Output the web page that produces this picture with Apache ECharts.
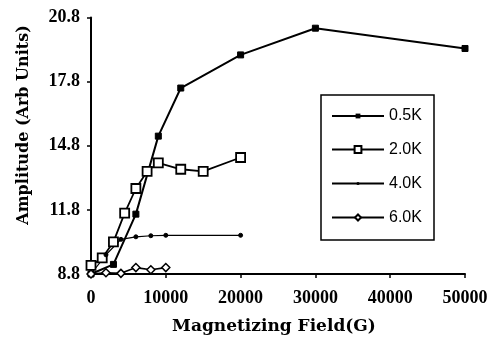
<!DOCTYPE html>
<html><head><meta charset="utf-8">
<script src="https://cdn.jsdelivr.net/npm/echarts@6/dist/echarts.min.js"></script>
<style>html,body{margin:0;padding:0;background:#fff}#c{width:502px;height:342px}</style>
</head><body><div id="c"></div>
<script>
const seriesNames = ['0.5K', '2.0K', '4.0K', '6.0K'];
const field05 = [0, 3000, 6000, 9000, 12000, 20000, 30000, 50000];
const amp05   = [8.8, 9.25, 11.6, 15.25, 17.5, 19.05, 20.3, 19.35];
const field20 = [0, 1500, 3000, 4500, 6000, 7500, 9000, 12000, 15000, 20000];
const amp20   = [9.2, 9.55, 10.3, 11.65, 12.8, 13.6, 14.0, 13.7, 13.6, 14.25];
const field40 = [0, 2000, 4000, 6000, 8000, 10000, 20000];
const amp40   = [8.8, 9.7, 10.42, 10.54, 10.59, 10.61, 10.61];
const field60 = [0, 2000, 4000, 6000, 8000, 10000];
const amp60   = [8.8, 8.86, 8.83, 9.1, 9.0, 9.1];
const xTicks = [0, 10000, 20000, 30000, 40000, 50000];
const yTicks = [8.8, 11.8, 14.8, 17.8, 20.8];

const pair = (xs, ys) => xs.map((x, i) => [x, ys[i]]);
const chart = echarts.init(document.getElementById('c'), null, {renderer: 'canvas'});
const serif = 'Liberation Serif, serif';
const wideSerif = 'DejaVu Serif, serif';
const sans = 'Liberation Sans, Arial, sans-serif';

// legend entries: one legend per series so each icon can have its own marker size
const legendCenters = [115, 148.5, 182.5, 216.5];
const legendIconH = [6, 8.5, 4, 7.5];
const legends = seriesNames.map((n, i) => ({
  orient: 'vertical', left: 331, top: legendCenters[i] - 7,
  data: [n], itemWidth: 52, itemHeight: legendIconH[i], padding: 0, itemGap: 0,
  textStyle: {color: '#000', fontFamily: sans, fontSize: 16, lineHeight: 14}
}));

chart.setOption({
  animation: false,
  backgroundColor: '#fff',
  grid: {left: 91, right: 37, top: 17.5, bottom: 68, containLabel: false},
  xAxis: {
    type: 'value', min: xTicks[0], max: xTicks[xTicks.length - 1], interval: 10000,
    axisLine: {lineStyle: {color: '#000', width: 2}},
    axisTick: {show: true, length: 4, lineStyle: {color: '#000', width: 1.5}},
    axisLabel: {color: '#000', fontFamily: serif, fontWeight: 'bold', fontSize: 18, margin: 15,
      formatter: v => String(v)},
    splitLine: {show: false}
  },
  yAxis: {
    type: 'value', min: yTicks[0], max: yTicks[yTicks.length - 1], interval: 3,
    axisLine: {show: true, lineStyle: {color: '#000', width: 2}},
    axisTick: {show: true, length: 4, lineStyle: {color: '#000', width: 1.5}},
    axisLabel: {color: '#000', fontFamily: serif, fontWeight: 'bold', fontSize: 18, margin: 11,
      formatter: v => v.toFixed(1)},
    splitLine: {show: false}
  },
  legend: legends,
  graphic: [
    {type: 'rect', shape: {x: 321, y: 95, width: 113, height: 145},
     style: {fill: 'none', stroke: '#000', lineWidth: 1.5}, z: 10},
    {type: 'text', x: 274, y: 327,
     style: {text: 'Magnetizing Field(G)', fill: '#000', font: 'bold 17px ' + wideSerif,
       align: 'center', verticalAlign: 'middle'}},
    {type: 'text', x: 24, y: 125, rotation: Math.PI / 2,
     style: {text: 'Amplitude (Arb Units)', fill: '#000', font: 'bold 16px ' + wideSerif,
       align: 'center', verticalAlign: 'middle'}}
  ],
  series: [
    {name: seriesNames[0], type: 'line', data: pair(field05, amp05),
     symbol: 'rect', symbolSize: 6, lineStyle: {color: '#000', width: 2},
     itemStyle: {color: '#000', borderColor: '#000'}},
    {name: seriesNames[1], type: 'line', data: pair(field20, amp20),
     symbol: 'rect', symbolSize: 9, lineStyle: {color: '#000', width: 1.8},
     itemStyle: {color: '#fff', borderColor: '#000', borderWidth: 1.8}},
    {name: seriesNames[2], type: 'line', data: pair(field40, amp40),
     symbol: 'circle', symbolSize: 4, lineStyle: {color: '#000', width: 1.2},
     itemStyle: {color: '#000', borderColor: '#000'}},
    {name: seriesNames[3], type: 'line', data: pair(field60, amp60),
     symbol: 'diamond', symbolSize: 8, lineStyle: {color: '#000', width: 1.6},
     itemStyle: {color: '#fff', borderColor: '#000', borderWidth: 1.5}}
  ]
});
</script></body></html>
